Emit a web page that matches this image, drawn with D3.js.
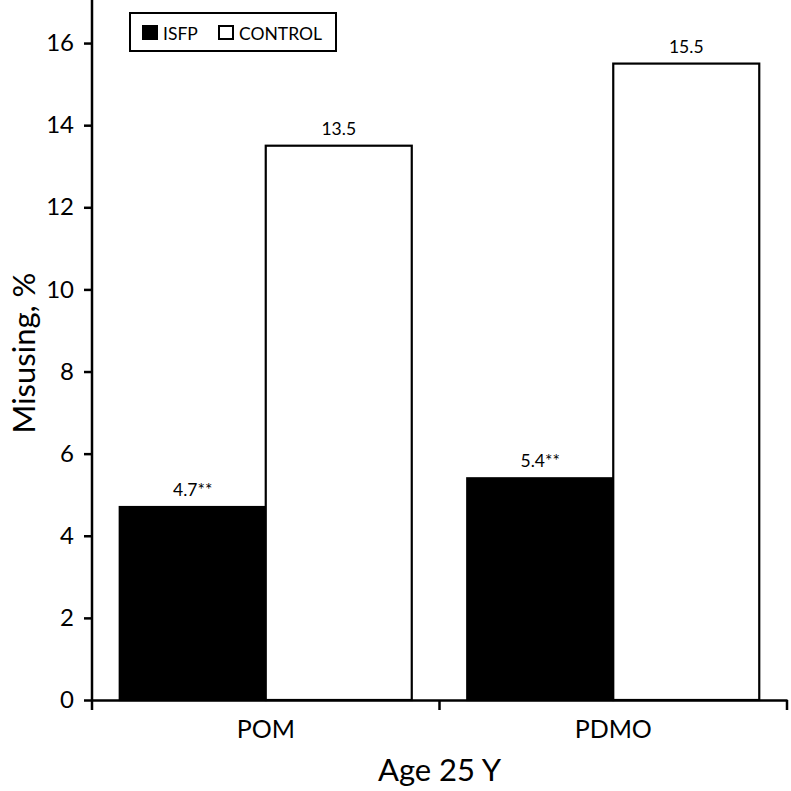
<!DOCTYPE html>
<html><head><meta charset="utf-8">
<script src="https://cdn.jsdelivr.net/npm/d3@7"></script>
<style>body{margin:0;background:#fff;} svg{display:block;} text{font-family:Lato,"Open Sans",sans-serif;}</style>
</head><body>
<svg id="c" width="791" height="791"></svg>
<script>
const categories = ["POM", "PDMO"];
const seriesNames = ["ISFP", "CONTROL"];
const isfpValues = [4.7, 5.4];
const controlValues = [13.5, 15.5];
const valueLabels = [["4.7**", "13.5"], ["5.4**", "15.5"]];
const yTicks = [0, 2, 4, 6, 8, 10, 12, 14, 16];

const svg = d3.select("#c");
const m = {left: 92, right: 4, top: 2, bottom: 91};
const W = 791, H = 791;
const x0 = d3.scaleBand().domain(categories).range([m.left, W - m.right]).paddingInner(0).paddingOuter(0);
const x1 = d3.scaleBand().domain(seriesNames).range([0, x0.bandwidth()]).paddingOuter(0.19).paddingInner(0);
const y = d3.scaleLinear().domain([0, 17]).range([H - m.bottom, m.top]);

const data = categories.map((c, i) => ({cat: c, vals: [isfpValues[i], controlValues[i]]}));

const g = svg.selectAll("g.grp").data(data).join("g").attr("class", "grp")
  .attr("transform", d => `translate(${x0(d.cat)},0)`);
g.selectAll("rect").data(d => d.vals.map((v, j) => ({s: seriesNames[j], v})))
  .join("rect")
  .attr("x", d => x1(d.s))
  .attr("y", d => y(d.v))
  .attr("width", x1.bandwidth())
  .attr("height", d => y(0) - y(d.v))
  .attr("fill", d => d.s === "ISFP" ? "#000" : "#fff")
  .attr("stroke", "#000").attr("stroke-width", 2.2);
g.selectAll("text.val").data((d, i) => d.vals.map((v, j) => ({s: seriesNames[j], v, lab: valueLabels[i][j]})))
  .join("text").attr("class", "val")
  .attr("x", d => x1(d.s) + x1.bandwidth() / 2)
  .attr("y", d => y(d.v) - 11)
  .attr("text-anchor", "middle")
  .attr("font-size", 17.5)
  .text(d => d.lab);

// Y axis
const ya = svg.append("g").attr("transform", `translate(${m.left},0)`)
  .call(d3.axisLeft(y).tickValues(yTicks).tickSize(8).tickPadding(10).tickSizeOuter(0));
ya.select(".domain").attr("stroke-width", 2.5).attr("d", `M0,${y(0)}V${0}`);
ya.selectAll(".tick line").attr("stroke-width", 2.5);
ya.selectAll(".tick text").attr("font-size", 24).attr("font-family", "Lato, sans-serif").attr("fill", "#000");

// X axis
const xa = svg.append("g").attr("transform", `translate(0,${y(0)})`)
  .call(d3.axisBottom(x0).tickSize(0).tickSizeOuter(0));
xa.select(".domain").attr("stroke-width", 2.5);
xa.selectAll(".tick text").attr("font-size", 25).attr("font-family", "Lato, sans-serif")
  .attr("fill", "#000").attr("y", 38).attr("dy", 0);
const bounds = [m.left, x0("PDMO"), W - m.right];
xa.selectAll("line.sep").data(bounds).join("line").attr("class", "sep")
  .attr("x1", d => d).attr("x2", d => d).attr("y1", 0).attr("y2", 10)
  .attr("stroke", "#000").attr("stroke-width", 2.5);

// axis titles
svg.append("text").attr("transform", `translate(35,${(y(0) + m.top) / 2 + 2}) rotate(-90)`)
  .attr("text-anchor", "middle").attr("font-size", 31).text("Misusing, %");
svg.append("text").attr("x", (m.left + W - m.right) / 2).attr("y", 781)
  .attr("text-anchor", "middle").attr("font-size", 31).text("Age 25 Y");

// legend
const lg = svg.append("g").attr("transform", "translate(130,13)");
lg.append("rect").attr("width", 206).attr("height", 38).attr("fill", "#fff").attr("stroke", "#000").attr("stroke-width", 2);
const items = lg.selectAll("g.it").data(seriesNames).join("g").attr("class", "it")
  .attr("transform", (d, i) => `translate(${i === 0 ? 13 : 89},0)`);
items.append("rect").attr("x", 0).attr("y", 13).attr("width", 14).attr("height", 13)
  .attr("fill", d => d === "ISFP" ? "#000" : "#fff").attr("stroke", "#000").attr("stroke-width", 2);
items.append("text").attr("x", 20).attr("y", 26.5).attr("font-size", 17.5).text(d => d);
</script>
</body></html>
